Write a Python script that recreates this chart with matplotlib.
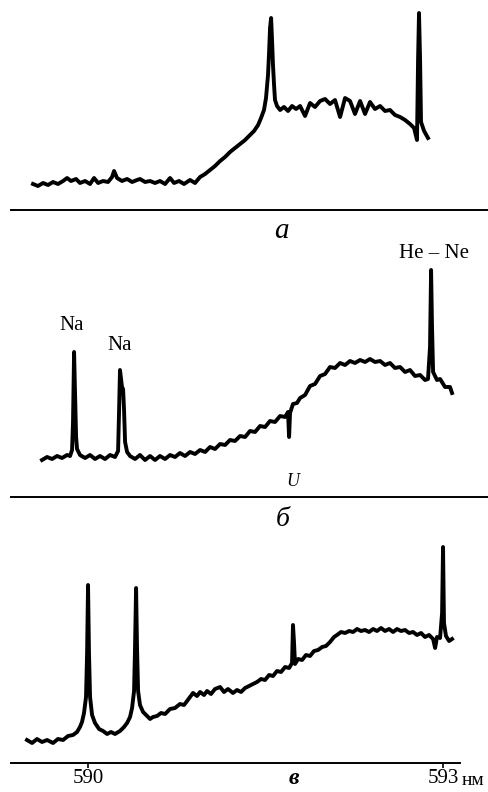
import matplotlib.pyplot as plt

W, H = 488, 792

# panel а: wavelength (nm) and signal (arb. units above the axis line)
wl_a = [589.535, 589.577, 589.620, 589.662, 589.704, 589.746, 589.789, 589.823, 589.856, 589.899,
        589.932, 589.975, 590.017, 590.051, 590.085, 590.127, 590.169, 590.203, 590.220, 590.245,
        590.287, 590.330, 590.372, 590.414, 590.439, 590.482, 590.524, 590.566, 590.608, 590.651,
        590.693, 590.727, 590.769, 590.811, 590.862, 590.904, 590.947, 590.989, 591.031, 591.073,
        591.116, 591.158, 591.200, 591.242, 591.285, 591.327, 591.369, 591.403, 591.437, 591.462,
        591.487, 591.504, 591.521, 591.530, 591.538, 591.547, 591.555, 591.563, 591.572, 591.580,
        591.597, 591.623, 591.656, 591.690, 591.724, 591.758, 591.792, 591.834, 591.876, 591.918,
        591.961, 592.003, 592.045, 592.087, 592.130, 592.172, 592.214, 592.256, 592.299, 592.341,
        592.383, 592.425, 592.468, 592.510, 592.552, 592.594, 592.637, 592.679, 592.721, 592.755,
        592.780, 592.789, 592.797, 592.806, 592.814, 592.840, 592.873]
sig_a = [26, 24, 27, 25, 28, 26, 29, 32, 29, 31,
         27, 29, 26, 32, 27, 29, 28, 33, 39, 32,
         29, 31, 28, 30, 31, 28, 29, 27, 29, 26,
         32, 27, 29, 26, 30, 27, 33, 36, 40, 44,
         49, 53, 58, 62, 66, 70, 75, 79, 85, 92,
         100, 112, 135, 158, 182, 192, 170, 145, 125, 110,
         104, 100, 103, 99, 104, 101, 104, 94, 107, 103,
         109, 111, 106, 110, 93, 112, 109, 96, 109, 96,
         108, 101, 104, 99, 100, 95, 93, 90, 86, 82,
         70, 150, 197, 150, 88, 79, 72]

# panel б
wl_b = [589.611, 589.654, 589.696, 589.738, 589.780, 589.823, 589.848, 589.865, 589.873, 589.882,
        589.890, 589.899, 589.907, 589.932, 589.975, 590.017, 590.059, 590.101, 590.144, 590.186,
        590.228, 590.254, 590.262, 590.270, 590.279, 590.287, 590.296, 590.304, 590.313, 590.330,
        590.355, 590.397, 590.439, 590.482, 590.524, 590.566, 590.608, 590.651, 590.693, 590.735,
        590.777, 590.820, 590.862, 590.904, 590.947, 590.989, 591.031, 591.073, 591.116, 591.158,
        591.200, 591.242, 591.285, 591.327, 591.369, 591.411, 591.454, 591.496, 591.538, 591.580,
        591.623, 591.665, 591.690, 591.699, 591.707, 591.732, 591.766, 591.792, 591.834, 591.876,
        591.918, 591.961, 592.003, 592.045, 592.087, 592.130, 592.172, 592.214, 592.256, 592.299,
        592.341, 592.383, 592.425, 592.468, 592.510, 592.552, 592.594, 592.637, 592.679, 592.721,
        592.763, 592.806, 592.848, 592.873, 592.890, 592.899, 592.907, 592.916, 592.949, 592.975,
        593.017, 593.059, 593.076]
sig_b = [37, 40, 38, 41, 39, 42, 41, 47, 75, 145,
         105, 60, 48, 42, 39, 42, 38, 41, 38, 42,
         40, 46, 85, 127, 118, 110, 108, 88, 55, 45,
         41, 38, 42, 37, 41, 37, 41, 38, 42, 40,
         44, 41, 45, 43, 47, 45, 50, 48, 53, 52,
         57, 56, 61, 60, 66, 65, 71, 70, 76, 75,
         81, 80, 85, 60, 84, 93, 94, 99, 102, 111,
         113, 121, 123, 130, 129, 134, 132, 136, 134, 137,
         135, 138, 135, 136, 132, 134, 129, 130, 125, 127,
         121, 122, 117, 118, 150, 227, 170, 125, 117, 118,
         110, 110, 104]

# panel в
wl_c = [589.484, 589.527, 589.569, 589.611, 589.654, 589.704, 589.746, 589.789, 589.831, 589.873,
        589.907, 589.932, 589.949, 589.966, 589.983, 589.992, 590.000, 590.008, 590.017, 590.034,
        590.059, 590.093, 590.127, 590.161, 590.194, 590.228, 590.270, 590.304, 590.330, 590.355,
        590.372, 590.389, 590.397, 590.406, 590.414, 590.423, 590.439, 590.465, 590.499, 590.524,
        590.549, 590.583, 590.617, 590.651, 590.693, 590.735, 590.777, 590.811, 590.837, 590.862,
        590.887, 590.921, 590.947, 590.980, 591.006, 591.039, 591.073, 591.116, 591.149, 591.183,
        591.225, 591.259, 591.293, 591.327, 591.361, 591.394, 591.428, 591.462, 591.496, 591.530,
        591.563, 591.597, 591.631, 591.665, 591.699, 591.724, 591.732, 591.741, 591.749, 591.775,
        591.809, 591.842, 591.876, 591.910, 591.944, 591.978, 592.011, 592.045, 592.079, 592.104,
        592.138, 592.172, 592.206, 592.240, 592.273, 592.307, 592.341, 592.375, 592.409, 592.442,
        592.476, 592.510, 592.544, 592.578, 592.611, 592.645, 592.679, 592.713, 592.747, 592.780,
        592.814, 592.848, 592.882, 592.916, 592.933, 592.949, 592.975, 592.992, 593.000, 593.008,
        593.025, 593.051, 593.076]
sig_c = [23, 20, 24, 21, 23, 20, 24, 23, 27, 28,
         31, 36, 41, 50, 66, 110, 178, 110, 66, 48,
         40, 34, 32, 29, 31, 29, 32, 36, 40, 46,
         55, 72, 115, 175, 115, 72, 58, 51, 47, 44,
         46, 47, 50, 49, 54, 55, 59, 58, 62, 66,
         70, 67, 71, 68, 72, 69, 74, 76, 71, 74,
         70, 73, 71, 75, 77, 79, 81, 84, 83, 88,
         87, 92, 91, 96, 95, 100, 138, 120, 99, 104,
         103, 108, 107, 112, 113, 116, 117, 121, 126, 128,
         131, 130, 132, 131, 134, 132, 133, 131, 134, 132,
         135, 132, 134, 131, 134, 132, 133, 130, 131, 128,
         130, 126, 128, 124, 115, 126, 125, 150, 216, 140,
         127, 122, 124]

panel_labels = ["а", "б", "в"]
line_labels = ["Na", "Na", "He – Ne", "U"]
tick_values = [590, 593]
tick_labels = ["590", "593"]
unit = "нм"

plt.rcParams['font.family'] = ['Liberation Serif', 'DejaVu Serif']

fig = plt.figure(figsize=(W / 100, H / 100), dpi=100)


def fx(x):
    return x / W


def fy(y):
    return 1 - y / H


XMIN, XMAX = 589.256, 593.380


def panel(top, base, wl, sig, right_end):
    ax = fig.add_axes([0, fy(base), 1, (base - top) / H])
    ax.plot(wl, sig, color='black', lw=2.8)
    ax.set_xlim(XMIN, XMAX)
    ax.set_ylim(0, base - top)
    for s in ['top', 'left', 'right']:
        ax.spines[s].set_visible(False)
    ax.spines['bottom'].set_linewidth(1.4)
    ax.spines['bottom'].set_bounds(589.35, right_end)
    ax.set_yticks([])
    ax.set_xticks([])
    ax.patch.set_alpha(0)
    return ax


ax_a = panel(0, 210, wl_a, sig_a, XMAX)
ax_b = panel(262, 497, wl_b, sig_b, XMAX)
ax_c = panel(530, 763, wl_c, sig_c, 593.144)

ax_c.set_xticks(tick_values, tick_labels)
ax_c.tick_params(axis='x', direction='out', length=3.5, width=1.2, labelsize=15, pad=1)

# captions
fig.text(fx(281), fy(231), panel_labels[0], style='italic', fontsize=21, ha='center', va='center')
fig.text(fx(283), fy(519), panel_labels[1], style='italic', fontsize=20, ha='center', va='center')
fig.text(fx(294), fy(778), panel_labels[2], style='italic', weight='bold', fontsize=17,
         ha='center', va='center')
fig.text(fx(462), fy(785), unit, fontsize=14, ha='left', va='baseline')

# line labels
fig.text(fx(72), fy(326), line_labels[0], fontsize=15, ha='center', va='center')
fig.text(fx(120), fy(346), line_labels[1], fontsize=15, ha='center', va='center')
fig.text(fx(434), fy(253), line_labels[2], fontsize=15, ha='center', va='center')
fig.text(fx(293), fy(481), line_labels[3], style='italic', fontsize=13, ha='center', va='center')

fig.savefig('out.png', dpi=100)
